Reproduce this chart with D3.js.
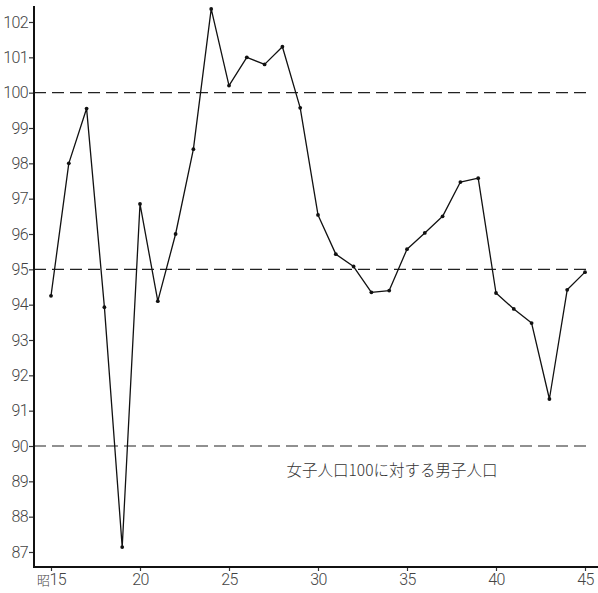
<!DOCTYPE html>
<html><head><meta charset="utf-8">
<script src="https://cdn.jsdelivr.net/npm/d3@7"></script>
<style>body{margin:0;background:#fff}svg{display:block}</style>
</head><body>
<svg id="c" width="598" height="593"></svg>
<script>
const years = [15,16,17,18,19,20,21,22,23,24,25,26,27,28,29,30,31,32,33,34,35,36,37,38,39,40,41,42,43,44,45];
const ratio = [94.25,98.0,99.55,93.93,87.14,96.85,94.1,96.0,98.4,102.37,100.2,101.0,100.8,101.3,99.57,96.54,95.43,95.08,94.35,94.4,95.57,96.03,96.5,97.47,97.58,94.33,93.88,93.48,91.33,94.42,94.92];
const yTicks = [87,88,89,90,91,92,93,94,95,96,97,98,99,100,101,102];
const xTicks = [15,20,25,30,35,40,45];
const xTickLabels = ["15","20","25","30","35","40","45"];
const refLines = [100,95,90];
const caption = "女子人口100に対する男子人口";

const svg = d3.select("#c");
const x = d3.scaleLinear().domain([15,45]).range([51,585]);
const y = d3.scaleLinear().domain([87,102]).range([552,22]);
const axX = 34, axY = 567;
const numFont = "Roboto,'Liberation Sans',sans-serif";

// reference dashed lines
svg.selectAll("line.ref").data(refLines).join("line")
  .attr("x1", axX).attr("x2", 590)
  .attr("y1", d=>y(d)).attr("y2", d=>y(d))
  .attr("stroke","#222").attr("stroke-width",1.1)
  .attr("stroke-dasharray","12,6");

// y axis
const yAxis = d3.axisLeft(y).tickValues(yTicks).tickSize(5).tickFormat(d3.format("d"));
const gy = svg.append("g").attr("transform",`translate(${axX},0)`).call(yAxis);
gy.select(".domain").remove();
gy.selectAll(".tick line").attr("stroke","#333").attr("stroke-width",1.2);
gy.selectAll(".tick text").attr("x",-6).attr("font-family",numFont).attr("font-weight",300)
  .attr("font-size",16).attr("fill","#444").attr("letter-spacing",-0.6);

svg.append("line").attr("x1",axX).attr("x2",axX).attr("y1",6).attr("y2",axY+1)
  .attr("stroke","#111").attr("stroke-width",2);

// x axis
const xAxis = d3.axisBottom(x).tickValues(xTicks).tickSize(4).tickFormat((d,i)=>xTickLabels[i]);
const gx = svg.append("g").attr("transform",`translate(0,${axY})`).call(xAxis);
gx.select(".domain").remove();
gx.selectAll(".tick line").attr("stroke","#333").attr("stroke-width",1.2);
gx.selectAll(".tick text").attr("y",7).attr("font-family",numFont).attr("font-weight",300)
  .attr("font-size",16).attr("fill","#444").attr("letter-spacing",-0.6);
gx.selectAll(".tick text").filter(d=>d===15).each(function(){
  const t = d3.select(this);
  t.text("");
  t.append("tspan").attr("font-size",13).attr("font-family","'Noto Sans CJK JP',sans-serif").attr("font-weight",300).text("昭");
  t.append("tspan").text("15");
});
svg.append("line").attr("x1",axX-1).attr("x2",598).attr("y1",axY).attr("y2",axY)
  .attr("stroke","#111").attr("stroke-width",2);

// data line
const line = d3.line().x((d,i)=>x(years[i])).y(d=>y(d));
svg.append("path").datum(ratio).attr("d",line).attr("fill","none")
  .attr("stroke","#111").attr("stroke-width",1.3).attr("stroke-linejoin","round");
svg.selectAll("circle.pt").data(ratio).join("circle")
  .attr("cx",(d,i)=>x(years[i])).attr("cy",d=>y(d)).attr("r",1.9).attr("fill","#111");

// caption
svg.append("text").attr("x",392).attr("y",476).attr("text-anchor","middle")
  .attr("font-family","'Noto Sans CJK JP',sans-serif").attr("font-size",15.5)
  .attr("font-weight",300).attr("fill","#333").text(caption);
</script>
</body></html>
